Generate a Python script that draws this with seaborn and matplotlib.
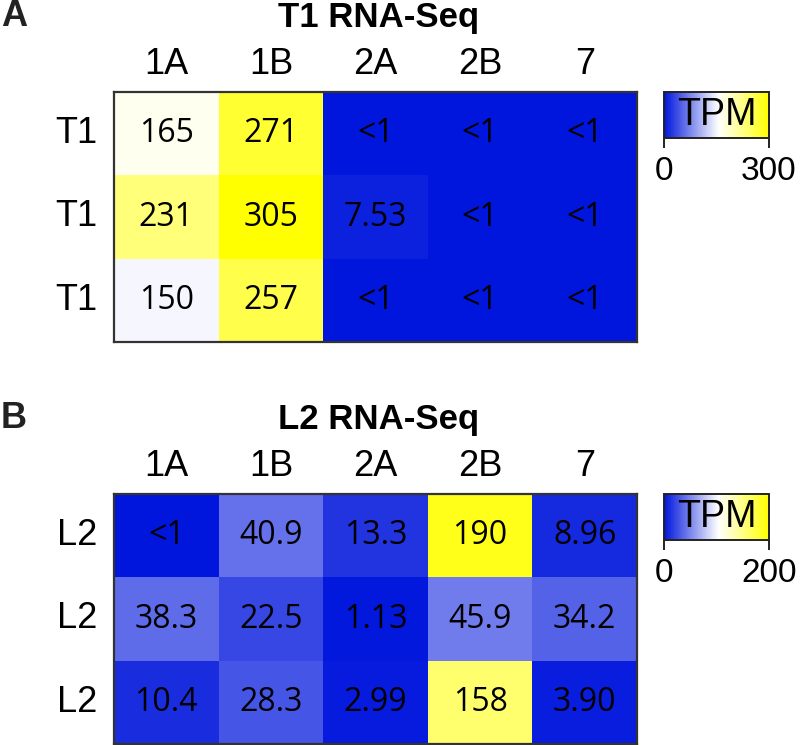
import matplotlib
matplotlib.use('Agg')
import matplotlib.pyplot as plt
from matplotlib.colors import LinearSegmentedColormap
import seaborn as sns
import numpy as np

columns = ['1A', '1B', '2A', '2B', '7']

t1_rows = ['T1', 'T1', 'T1']
t1_tpm = [[165, 271, 0.5, 0.5, 0.5],
          [231, 305, 7.53, 0.5, 0.5],
          [150, 257, 0.5, 0.5, 0.5]]
t1_labels = [['165', '271', '<1', '<1', '<1'],
             ['231', '305', '7.53', '<1', '<1'],
             ['150', '257', '<1', '<1', '<1']]

l2_rows = ['L2', 'L2', 'L2']
l2_tpm = [[0.5, 40.9, 13.3, 190, 8.96],
          [38.3, 22.5, 1.13, 45.9, 34.2],
          [10.4, 28.3, 2.99, 158, 3.90]]
l2_labels = [['<1', '40.9', '13.3', '190', '8.96'],
             ['38.3', '22.5', '1.13', '45.9', '34.2'],
             ['10.4', '28.3', '2.99', '158', '3.90']]

sns.set_style('white')
plt.rcParams['font.family'] = ['Liberation Sans', 'DejaVu Sans']
plt.rcParams['text.color'] = 'black'
plt.rcParams['xtick.color'] = 'black'
plt.rcParams['ytick.color'] = 'black'

cmap = LinearSegmentedColormap.from_list(
    'bwy', [(0, '#0016DC'), (0.52, '#FFFFFF'), (1, '#FFFF00')])

W, H = 800, 745
fig = plt.figure(figsize=(8, 7.45), dpi=100)


def fx(px):
    return px / W


def fy(py):
    return 1 - py / H


panels = [
    # letter, title, rows, values, labels, vmax, top px of heatmap, title y px
    ('A', 'T1 RNA-Seq', t1_rows, t1_tpm, t1_labels, 300, 92, 17),
    ('B', 'L2 RNA-Seq', l2_rows, l2_tpm, l2_labels, 200, 494, 419),
]

for letter, title, rows, vals, labels, vmax, top, title_y in panels:
    left, right = 114, 637
    ax = fig.add_axes([fx(left), fy(top + 250), fx(right - left), 250 / H])
    cax = fig.add_axes([fx(664), fy(top + 46), fx(769 - 664), 46 / H])
    sns.heatmap(np.array(vals), annot=np.array(labels), fmt='', cmap=cmap,
                vmin=0, vmax=vmax, xticklabels=columns, yticklabels=rows,
                ax=ax, cbar_ax=cax,
                cbar_kws={'orientation': 'horizontal', 'ticks': [0, vmax]},
                annot_kws={'fontsize': 23, 'color': 'black', 'family': 'Open Sans'})
    ax.xaxis.tick_top()
    ax.tick_params(axis='x', length=0, pad=7, labelsize=26)
    ax.tick_params(axis='y', length=0, pad=12, labelsize=26, rotation=0)
    for s in ax.spines.values():
        s.set_visible(True)
        s.set_color('#333333')
        s.set_linewidth(1.6)

    cbar = ax.collections[0].colorbar
    cbar.outline.set_edgecolor('#222222')
    cbar.outline.set_linewidth(1.4)
    cax.tick_params(axis='x', length=7, width=1.4, pad=6, labelsize=24,
                    bottom=True, color='#222222')
    cax.text(0.5, 0.5, 'TPM', transform=cax.transAxes, ha='center', va='center',
             fontsize=27, color='black')

    fig.text(fx(379), fy(title_y), title, ha='center', va='center',
             fontsize=25, fontweight='bold', color='black')
    fig.text(fx(1), fy(title_y), letter, ha='left', va='center',
             fontsize=26, fontweight='bold', color='#222222')

fig.savefig('out.png', dpi=100)
